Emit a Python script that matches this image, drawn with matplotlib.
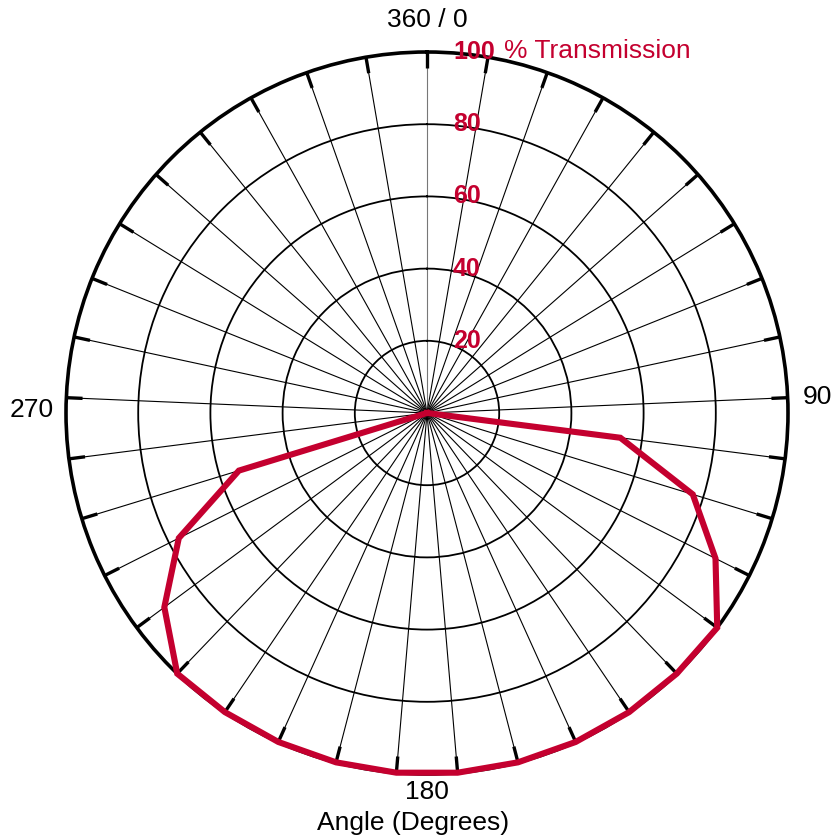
import numpy as np
import matplotlib
matplotlib.use("Agg")
import matplotlib.pyplot as plt
from matplotlib.transforms import offset_copy

# Angle categories 0..360 step 10 (37 categories around the circle)
angle_categories = list(range(0, 361, 10))
transmission = [0, 0, 0, 0, 0, 0, 0, 0, 0, 0,
                54, 77, 89.5, 100, 100, 100, 100, 100, 100, 100,
                100, 100, 100, 100, 90.5, 77, 54.5,
                0, 0, 0, 0, 0, 0, 0, 0, 0, 0]
ring_values = [20, 40, 60, 80, 100]
ring_labels = ["20", "40", "60", "80", "100"]

red = "#c4002f"
W, H = 836, 838

plt.rcParams['font.family'] = ['Liberation Sans', 'DejaVu Sans']
fig = plt.figure(figsize=(W / 100, H / 100), dpi=100)

# center at (427, 413) px, radius 361 px
cx, cy, rad = 427, 413, 361
ax = fig.add_axes([(cx - rad) / W, (H - cy - rad) / H, 2 * rad / W, 2 * rad / H],
                  projection='polar')
ax.set_theta_zero_location('N')
ax.set_theta_direction(-1)

n = len(angle_categories)
theta = np.arange(n) * 2 * np.pi / n

ax.plot(theta, transmission, color=red, lw=4.4, solid_joinstyle='miter', zorder=5,
        clip_on=False)

ax.set_ylim(0, 100)
ax.set_xticks(theta)
ax.set_xticklabels([""] * n)
ax.set_yticks(ring_values[:-1])
ax.set_yticklabels([""] * (len(ring_values) - 1))
ax.xaxis.grid(True, color='black', lw=0.8)
ax.yaxis.grid(True, color='black', lw=1.3)
ax.xaxis.get_gridlines()[0].set_color('#777777')
ax.tick_params(axis='both', length=0)
ax.spines['polar'].set_linewidth(2.6)

# short thick tick marks pointing inward from the outer circle
for t in theta:
    ax.plot([t, t], [95.5, 100], color='black', lw=2.4, solid_capstyle='butt',
            zorder=4, clip_on=False)

# ring labels placed just right of the 0-degree spoke
for v, lab in zip(ring_values, ring_labels):
    tr = offset_copy(ax.transData, fig=fig, x=26, y=0, units='dots')
    ax.text(0, v, lab, transform=tr, ha='left', va='center', color=red,
            fontsize=18, fontweight='bold', zorder=6, clip_on=False)
fig.text(504 / W, 1 - 51 / H, "% Transmission", color=red, fontsize=19,
         ha='left', va='center')

fig.text(427 / W, 1 - 20 / H, "360 / 0", fontsize=19, ha='center', va='center')
fig.text(817 / W, 1 - 397 / H, "90", fontsize=19, ha='center', va='center')
fig.text(32 / W, 1 - 410 / H, "270", fontsize=19, ha='center', va='center')
fig.text(427 / W, 1 - 792 / H, "180", fontsize=19, ha='center', va='center')
fig.text(413 / W, 1 - 823 / H, "Angle (Degrees)", fontsize=19, ha='center', va='center')

fig.savefig("out.png", dpi=100)
